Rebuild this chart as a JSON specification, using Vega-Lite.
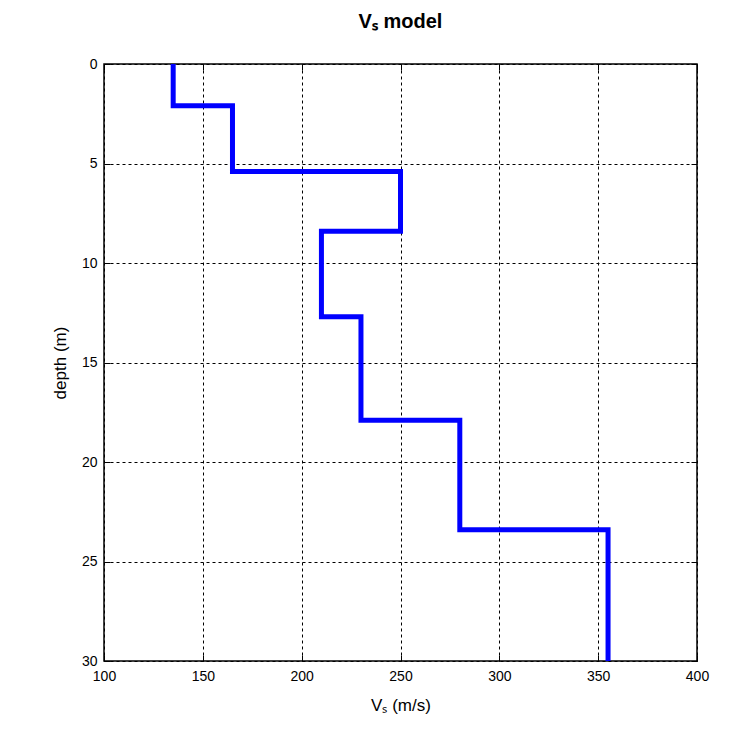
{
  "$schema": "https://vega.github.io/schema/vega-lite/v6.json",
  "autosize": "none",
  "width": 593,
  "height": 597,
  "padding": {"left": 104, "top": 64, "right": 56, "bottom": 72},
  "background": "white",
  "title": {
    "text": "Vₛ model",
    "font": "Liberation Sans",
    "fontSize": 20,
    "fontWeight": "bold",
    "color": "black",
    "anchor": "middle",
    "offset": 22
  },
  "data": {
    "values": [
      {"i": 0, "vs": 135, "depth": 0},
      {"i": 1, "vs": 135, "depth": 2.1},
      {"i": 2, "vs": 165, "depth": 2.1},
      {"i": 3, "vs": 165, "depth": 5.4},
      {"i": 4, "vs": 250, "depth": 5.4},
      {"i": 5, "vs": 250, "depth": 8.4},
      {"i": 6, "vs": 210, "depth": 8.4},
      {"i": 7, "vs": 210, "depth": 12.7},
      {"i": 8, "vs": 230, "depth": 12.7},
      {"i": 9, "vs": 230, "depth": 17.9},
      {"i": 10, "vs": 280, "depth": 17.9},
      {"i": 11, "vs": 280, "depth": 23.4},
      {"i": 12, "vs": 355, "depth": 23.4},
      {"i": 13, "vs": 355, "depth": 30}
    ]
  },
  "resolve": {"axis": {"x": "independent", "y": "independent"}},
  "layer": [
    {
      "mark": {"type": "line", "color": "#0000ff", "strokeWidth": 5, "strokeJoin": "miter", "strokeCap": "butt"},
      "encoding": {
        "order": {"field": "i", "type": "quantitative"},
        "x": {
          "field": "vs", "type": "quantitative",
          "scale": {"domain": [100, 400], "nice": false, "zero": false},
          "axis": {
            "orient": "bottom",
            "values": [100, 150, 200, 250, 300, 350, 400],
            "title": "Vₛ (m/s)",
            "titleFont": "Liberation Sans", "titleFontSize": 17, "titleFontWeight": "normal", "titleColor": "black",
            "titlePadding": 14,
            "labelFont": "Liberation Sans", "labelFontSize": 14, "labelColor": "black",
            "labelPadding": 14, "labelFlush": false,
            "domain": false,
            "tickSize": -6, "tickColor": "black",
            "grid": true, "gridColor": "black", "gridDash": [3, 3], "gridOpacity": 1, "gridWidth": 1
          }
        },
        "y": {
          "field": "depth", "type": "quantitative",
          "scale": {"domain": [0, 30], "nice": false, "reverse": true},
          "axis": {
            "orient": "left",
            "values": [0, 5, 10, 15, 20, 25, 30],
            "title": "depth (m)",
            "titleFont": "Liberation Sans", "titleFontSize": 17, "titleFontWeight": "normal", "titleColor": "black",
            "titlePadding": 12,
            "labelFont": "Liberation Sans", "labelFontSize": 14, "labelColor": "black",
            "labelPadding": 13, "labelFlush": false,
            "domain": false,
            "tickSize": -6, "tickColor": "black",
            "grid": true, "gridColor": "black", "gridDash": [3, 3], "gridOpacity": 1, "gridWidth": 1
          }
        }
      }
    },
    {
      "mark": {"type": "point", "opacity": 0},
      "encoding": {
        "x": {
          "field": "vs", "type": "quantitative",
          "axis": {"orient": "top", "values": [100, 150, 200, 250, 300, 350, 400], "labels": false, "title": null, "domain": false, "grid": false, "tickSize": -6, "tickColor": "black"}
        },
        "y": {
          "field": "depth", "type": "quantitative",
          "axis": {"orient": "right", "values": [0, 5, 10, 15, 20, 25, 30], "labels": false, "title": null, "domain": false, "grid": false, "tickSize": -6, "tickColor": "black"}
        }
      }
    }
  ],
  "config": {
    "view": {"stroke": "black", "strokeWidth": 1.5}
  }
}
